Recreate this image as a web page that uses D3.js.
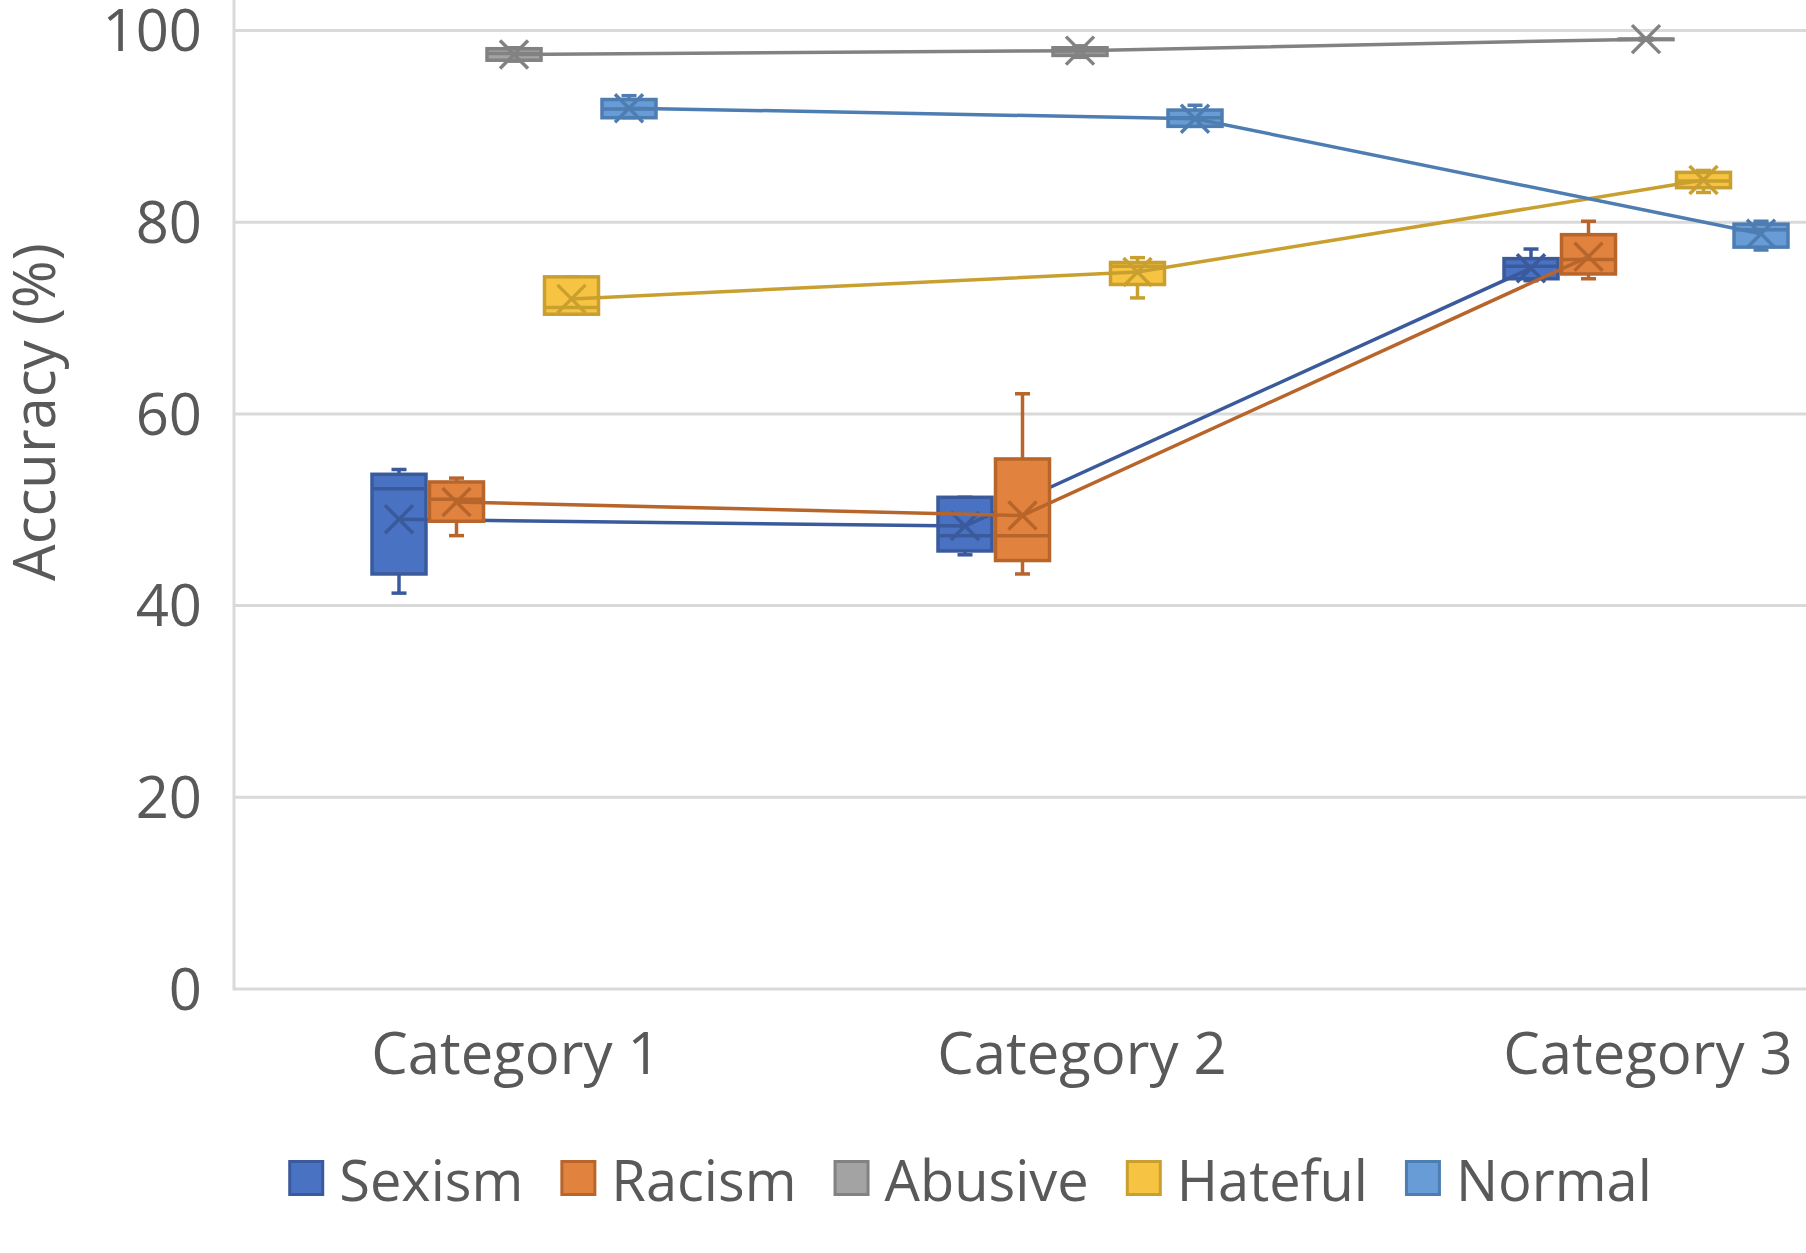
<!DOCTYPE html>
<html>
<head>
<meta charset="utf-8">
<script src="https://cdn.jsdelivr.net/npm/d3@7"></script>
<style>
  body { margin: 0; background: #fff; }
  text { font-family: "Open Sans", "Noto Sans", sans-serif; fill: #595959; }
</style>
</head>
<body>
<svg id="chart"></svg>
<script>
// categories and series
var categories = ["Category 1", "Category 2", "Category 3"];
var seriesNames = ["Sexism", "Racism", "Abusive", "Hateful", "Normal"];
var yTicks = [0, 20, 40, 60, 80, 100];

// per category: [min, q1, median, q3, max, mean]
var sexism  = [[41.3, 43.3, 52.2, 53.7, 54.2, 49.0], [45.3, 45.7, 47.3, 51.3, 51.3, 48.3], [73.9, 74.1, 75.4, 76.2, 77.2, 75.2]];
var racism  = [[47.3, 48.8, 51.1, 52.9, 53.3, 50.8], [43.3, 44.7, 47.3, 55.3, 62.1, 49.4], [74.1, 74.6, 76.1, 78.7, 80.1, 76.4]];
var abusive = [[96.8, 96.9, 97.6, 98.1, 98.2, 97.5], [97.2, 97.4, 97.9, 98.2, 98.4, 97.9], [99.0, 99.1, 99.1, 99.1, 99.2, 99.1]];
var hateful = [[70.4, 70.4, 71.1, 74.3, 74.3, 72.0], [72.1, 73.5, 75.4, 75.8, 76.3, 74.8], [83.1, 83.6, 84.3, 85.2, 85.4, 84.4]];
var normal  = [[90.9, 90.9, 91.8, 92.8, 93.2, 91.9], [90.0, 90.0, 90.9, 91.7, 92.2, 90.8], [77.1, 77.4, 79.2, 79.8, 80.1, 78.8]];

var seriesData = [sexism, racism, abusive, hateful, normal];
var fills   = ["#4A72C2", "#E2823F", "#A3A3A3", "#F7C342", "#679CD6"];
var strokes = ["#3A5A9C", "#B8652C", "#828282", "#C9A030", "#4E7DB2"];

var width = 1806, height = 1253;
var fontSize = 58;

var svg = d3.select("#chart")
    .attr("width", width)
    .attr("height", height);

svg.append("rect").attr("width", width).attr("height", height).attr("fill", "#fff");

// scales
var x = d3.scaleBand()
    .domain(categories)
    .range([231, 1929]);

var xInner = d3.scaleBand()
    .domain(seriesNames)
    .range([-143.75, 143.75]);

var y = d3.scaleLinear()
    .domain([0, 100])
    .range([989, 30.5]);

var boxW = 54, capW = 15, xArm = 14;

function cx(ci, si) {
    return x(categories[ci]) + x.bandwidth() / 2 + xInner(seriesNames[si]) + xInner.bandwidth() / 2;
}

// gridlines
svg.append("g").selectAll("line")
    .data(yTicks.filter(d => d > 0))
    .join("line")
    .attr("x1", 234).attr("x2", width)
    .attr("y1", d => y(d)).attr("y2", d => y(d))
    .attr("stroke", "#D9D9D9")
    .attr("stroke-width", 3);

// axis lines
svg.append("line")
    .attr("x1", 234).attr("x2", 234)
    .attr("y1", 0).attr("y2", y(0) + 1.5)
    .attr("stroke", "#D9D9D9").attr("stroke-width", 3);
svg.append("line")
    .attr("x1", 234).attr("x2", width)
    .attr("y1", y(0)).attr("y2", y(0))
    .attr("stroke", "#D9D9D9").attr("stroke-width", 3);

// y tick labels
svg.append("g").selectAll("text")
    .data(yTicks)
    .join("text")
    .attr("x", 202)
    .attr("y", d => y(d))
    .attr("dy", "0.36em")
    .attr("text-anchor", "end")
    .attr("font-size", fontSize)
    .text(d => d);

// y title
svg.append("text")
    .attr("transform", "translate(55,412) rotate(-90)")
    .attr("text-anchor", "middle")
    .attr("font-size", fontSize)
    .text("Accuracy (%)");

// category labels
svg.append("g").selectAll("text")
    .data(categories)
    .join("text")
    .attr("x", d => x(d) + x.bandwidth() / 2 + 2)
    .attr("y", 1074)
    .attr("text-anchor", "middle")
    .attr("font-size", fontSize)
    .text(d => d);

// boxes, mean lines and mean markers, one series at a time
seriesData.forEach(function(rows, si) {
    var g = svg.append("g");
    var col = strokes[si];
    var pts = rows.map((r, ci) => ({ci: ci, min: r[0], q1: r[1], med: r[2], q3: r[3], max: r[4], mean: r[5]}));

    var box = g.selectAll("g.box")
        .data(pts)
        .join("g")
        .attr("class", "box");

    // whiskers
    box.append("line")
        .attr("x1", d => cx(d.ci, si)).attr("x2", d => cx(d.ci, si))
        .attr("y1", d => y(d.max)).attr("y2", d => y(d.min))
        .attr("stroke", col).attr("stroke-width", 3.5);
    box.selectAll("line.cap")
        .data(d => [{ci: d.ci, v: d.max}, {ci: d.ci, v: d.min}])
        .join("line")
        .attr("class", "cap")
        .attr("x1", d => cx(d.ci, si) - capW / 2).attr("x2", d => cx(d.ci, si) + capW / 2)
        .attr("y1", d => y(d.v)).attr("y2", d => y(d.v))
        .attr("stroke", col).attr("stroke-width", 3.5);

    // box body
    box.append("rect")
        .attr("x", d => cx(d.ci, si) - boxW / 2)
        .attr("width", boxW)
        .attr("y", d => y(d.q3))
        .attr("height", d => Math.max(0.5, y(d.q1) - y(d.q3)))
        .attr("fill", fills[si])
        .attr("stroke", col).attr("stroke-width", 3.5);

    // median
    box.append("line")
        .attr("x1", d => cx(d.ci, si) - boxW / 2).attr("x2", d => cx(d.ci, si) + boxW / 2)
        .attr("y1", d => y(d.med)).attr("y2", d => y(d.med))
        .attr("stroke", col).attr("stroke-width", 3.5);

    // line through the means
    var line = d3.line()
        .x(d => cx(d.ci, si))
        .y(d => y(d.mean));
    g.append("path")
        .datum(pts)
        .attr("d", line)
        .attr("fill", "none")
        .attr("stroke", col)
        .attr("stroke-width", 3.5);

    // mean markers
    g.selectAll("path.mark")
        .data(pts)
        .join("path")
        .attr("class", "mark")
        .attr("d", function(d) {
            var px = cx(d.ci, si), py = y(d.mean);
            return "M" + (px - xArm) + "," + (py - xArm) + "L" + (px + xArm) + "," + (py + xArm) +
                   "M" + (px - xArm) + "," + (py + xArm) + "L" + (px + xArm) + "," + (py - xArm);
        })
        .attr("stroke", col)
        .attr("stroke-width", 3.5)
        .attr("fill", "none");
});

// legend
var legend = svg.append("g");
var items = legend.selectAll("g")
    .data(seriesNames)
    .join("g");
items.append("rect")
    .attr("width", 33).attr("height", 33)
    .attr("x", 1.5).attr("y", 1161.5)
    .attr("fill", (d, i) => fills[i])
    .attr("stroke", (d, i) => strokes[i])
    .attr("stroke-width", 3);
items.append("text")
    .attr("x", 51)
    .attr("y", 1201)
    .attr("font-size", 56)
    .text(d => d);

var widths = [];
items.each(function() { widths.push(51 + d3.select(this).select("text").node().getComputedTextLength()); });
var gap = 37;
var total = d3.sum(widths) + gap * (widths.length - 1);
var lx = 970 - total / 2;
items.attr("transform", function(d, i) {
    var t = "translate(" + lx + ",0)";
    lx += widths[i] + gap;
    return t;
});
</script>
</body>
</html>
